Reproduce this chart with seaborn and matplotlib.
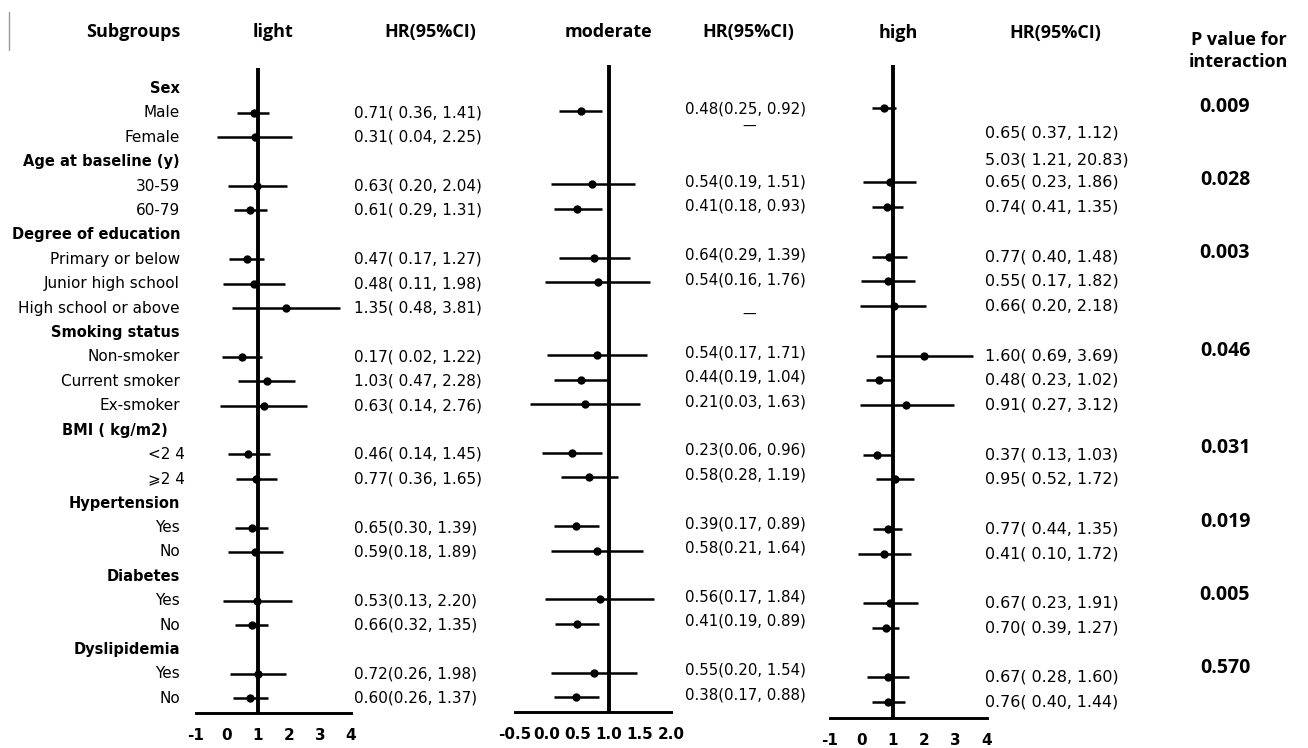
import numpy as np
import pandas as pd
import matplotlib
matplotlib.use("Agg")
import matplotlib.pyplot as plt
import seaborn as sns
from matplotlib.transforms import blended_transform_factory
from matplotlib.lines import Line2D

# ---- data ----
rowLabels = [
    "Sex", "Male", "Female",
    "Age at baseline (y)", "30-59", "60-79",
    "Degree of education", "Primary or below", "Junior high school", "High school or above",
    "Smoking status", "Non-smoker", "Current smoker", "Ex-smoker",
    "BMI ( kg/m2)", "<2 4", "⩾2 4",
    "Hypertension", "Yes", "No",
    "Diabetes", "Yes", "No",
    "Dyslipidemia", "Yes", "No",
]
headerRows = [0, 3, 6, 10, 14, 17, 20, 23]
subRows = [r for r in range(len(rowLabels)) if r not in headerRows]

nan = np.nan
lightHr = [0.87, 0.90, 0.97, 0.74, 0.65, 0.87, 1.90, 0.48, 1.29, 1.19, 0.68, 0.94, 0.81, 0.90, 0.97, 0.81, 1.00, 0.74]
lightLo = [0.32, -0.32, 0.03, 0.23, 0.06, -0.13, 0.16, -0.16, 0.35, -0.23, 0.03, 0.29, 0.26, 0.03, -0.13, 0.26, 0.10, 0.19]
lightHi = [1.35, 2.10, 1.94, 1.29, 1.19, 1.87, 3.65, 1.13, 2.19, 2.58, 1.39, 1.61, 1.32, 1.81, 2.10, 1.32, 1.90, 1.32]

modHr = [0.56, nan, 0.74, 0.50, 0.77, 0.83, nan, 0.81, 0.56, 0.62, 0.42, 0.69, 0.48, 0.82, 0.86, 0.50, 0.77, 0.47]
modLo = [0.21, nan, 0.07, 0.12, 0.21, -0.02, nan, 0.01, 0.12, -0.26, -0.06, 0.23, 0.12, 0.07, -0.02, 0.14, 0.07, 0.12]
modHi = [0.89, nan, 1.43, 0.89, 1.34, 1.66, nan, 1.61, 0.97, 1.51, 0.90, 1.15, 0.85, 1.55, 1.73, 0.85, 1.46, 0.84]

highHr = [0.71, nan, 0.92, 0.81, 0.87, 0.84, 1.04, 1.99, 0.55, 1.43, 0.50, 1.07, 0.84, 0.73, 0.92, 0.77, 0.84, 0.84]
highLo = [0.34, nan, 0.06, 0.34, 0.33, -0.01, -0.03, 0.45, 0.15, -0.06, 0.04, 0.45, 0.38, -0.12, 0.06, 0.34, 0.17, 0.34]
highHi = [1.09, nan, 1.75, 1.32, 1.45, 1.72, 2.07, 3.54, 0.95, 2.94, 0.95, 1.66, 1.30, 1.58, 1.80, 1.21, 1.52, 1.38]

lightText = ["0.71( 0.36, 1.41)", "0.31( 0.04, 2.25)", "0.63( 0.20, 2.04)", "0.61( 0.29, 1.31)",
             "0.47( 0.17, 1.27)", "0.48( 0.11, 1.98)", "1.35( 0.48, 3.81)", "0.17( 0.02, 1.22)",
             "1.03( 0.47, 2.28)", "0.63( 0.14, 2.76)", "0.46( 0.14, 1.45)", "0.77( 0.36, 1.65)",
             "0.65(0.30, 1.39)", "0.59(0.18, 1.89)", "0.53(0.13, 2.20)", "0.66(0.32, 1.35)",
             "0.72(0.26, 1.98)", "0.60(0.26, 1.37)"]
modText = ["0.48(0.25, 0.92)", "—", "0.54(0.19, 1.51)", "0.41(0.18, 0.93)",
           "0.64(0.29, 1.39)", "0.54(0.16, 1.76)", "—", "0.54(0.17, 1.71)",
           "0.44(0.19, 1.04)", "0.21(0.03, 1.63)", "0.23(0.06, 0.96)", "0.58(0.28, 1.19)",
           "0.39(0.17, 0.89)", "0.58(0.21, 1.64)", "0.56(0.17, 1.84)", "0.41(0.19, 0.89)",
           "0.55(0.20, 1.54)", "0.38(0.17, 0.88)"]
highText = ["0.65( 0.37, 1.12)", "5.03( 1.21, 20.83)", "0.65( 0.23, 1.86)", "0.74( 0.41, 1.35)",
            "0.77( 0.40, 1.48)", "0.55( 0.17, 1.82)", "0.66( 0.20, 2.18)", "1.60( 0.69, 3.69)",
            "0.48( 0.23, 1.02)", "0.91( 0.27, 3.12)", "0.37( 0.13, 1.03)", "0.95( 0.52, 1.72)",
            "0.77( 0.44, 1.35)", "0.41( 0.10, 1.72)", "0.67( 0.23, 1.91)", "0.70( 0.39, 1.27)",
            "0.67( 0.28, 1.60)", "0.76( 0.40, 1.44)"]
pValues = ["0.009", "0.028", "0.003", "0.046", "0.031", "0.019", "0.005", "0.570"]

lightTicks = [-1, 0, 1, 2, 3, 4]
modTicks = [-0.5, 0.0, 0.5, 1.0, 1.5, 2.0]
highTicks = [-1, 0, 1, 2, 3, 4]

# ---- layout (pixels of a 1308x748 canvas) ----
W, H = 1308, 748
sns.set_theme(style="white")
plt.rcParams["font.family"] = ["DejaVu Sans"]
plt.rcParams["text.color"] = "black"
plt.rcParams["xtick.color"] = "black"

fig = plt.figure(figsize=(W / 100, H / 100), dpi=100, facecolor="white")


def pxAxes(x0, x1, y0, y1):
    return fig.add_axes([x0 / W, (H - y1) / H, (x1 - x0) / W, (y1 - y0) / H])


def fx(px):
    return px / W


def fy(py):
    return (H - py) / H


panels = [
    # hr, lo, hi, ticks, xlim, box px (x0, x1, top, bottom), ylim in rows, tick format
    (lightHr, lightLo, lightHi, lightTicks, (-1, 4), (196, 351, 68, 713), (25.6, -0.84), "{:g}"),
    (modHr, modLo, modHi, modTicks, (-0.5, 2.0), (515, 671, 65, 712), (25.61, -0.885), "{:.1f}"),
    (highHr, highLo, highHi, highTicks, (-1, 4), (830, 987, 65, 718), (25.64, -0.74), "{:g}"),
]

axes = []
for hr, lo, hi, ticks, xlim, box, ylim, fmt in panels:
    ax = pxAxes(*box)
    df = pd.DataFrame({"row": subRows, "hr": hr, "lo": lo, "hi": hi}).dropna()
    ax.hlines(df["row"], df["lo"], df["hi"], color="black", lw=1.8, zorder=2)
    sns.scatterplot(data=df, x="hr", y="row", ax=ax, color="black", s=36,
                    edgecolor="black", linewidth=0, zorder=3, legend=False, clip_on=False)
    ax.axvline(1, color="black", lw=2.8, zorder=1)
    ax.set_xlim(*xlim)
    ax.set_ylim(*ylim)
    ax.set_xlabel("")
    ax.set_ylabel("")
    ax.set_yticks([])
    ax.set_xticks(ticks)
    ax.set_xticklabels([fmt.format(t) for t in ticks], fontsize=11, fontweight="bold")
    ax.tick_params(axis="x", direction="out", length=6.5, width=1.7, pad=4, colors="black")
    ax.set_facecolor("none")
    for side in ["left", "right", "top"]:
        ax.spines[side].set_visible(False)
    ax.spines["bottom"].set_linewidth(2.1)
    ax.spines["bottom"].set_color("black")
    axes.append(ax)

axLight, axMod, axHigh = axes

# row-scale transforms: x in figure fraction, y in each panel's rows
tL = blended_transform_factory(fig.transFigure, axLight.transData)
tM = blended_transform_factory(fig.transFigure, axMod.transData)
tH = blended_transform_factory(fig.transFigure, axHigh.transData)

for r, lab in enumerate(rowLabels):
    bold = r in headerRows
    xRight = fx(180)
    if lab.startswith("<") or lab.startswith("⩾"):
        xRight = fx(185)
    if lab.startswith("BMI"):
        xRight = fx(168)
    fig.text(xRight, r, lab, transform=tL, ha="right", va="center",
             fontsize=10.5 if bold else 11, fontweight="bold" if bold else "normal",
             family=["DejaVu Sans", "Noto Sans CJK SC"])

# HR(95%CI) columns
highShift = {0: 1.0, 1: 1.1}
modShift = {1: -0.35, 6: 0.35}
for i, r in enumerate(subRows):
    fig.text(fx(354), r, lightText[i], transform=tL, ha="left", va="center", fontsize=11)
    if modText[i] == "—":
        fig.text(fx(749), r + modShift.get(i, 0), modText[i], transform=tM,
                 ha="center", va="center", fontsize=10)
    else:
        fig.text(fx(685), r - 0.1, modText[i], transform=tM, ha="left", va="center", fontsize=10.8)
    fig.text(fx(985), r + highShift.get(i, 0), highText[i], transform=tH,
             ha="left", va="center", fontsize=11.4)

# P values for interaction
for hRow, p in zip(headerRows, pValues):
    fig.text(fx(1225), hRow + 0.75, p, transform=tL, ha="center", va="center",
             fontsize=14, fontweight="bold", family="Open Sans")

# column headers
hdr = dict(fontsize=13, fontweight="bold", family="Open Sans", va="center")
fig.text(fx(180), fy(32), "Subgroups", ha="right", **hdr)
fig.text(fx(273), fy(32), "light", ha="center", **hdr)
fig.text(fx(430), fy(32), "HR(95%CI)", ha="center", **hdr)
fig.text(fx(608), fy(32), "moderate", ha="center", **hdr)
fig.text(fx(748), fy(32), "HR(95%CI)", ha="center", **hdr)
fig.text(fx(898), fy(33), "high", ha="center", **hdr)
fig.text(fx(1055), fy(33), "HR(95%CI)", ha="center", **hdr)
fig.text(fx(1239), fy(40), "P value for", ha="center", **hdr)
fig.text(fx(1238), fy(62), "interaction", ha="center", **hdr)

# thin crop mark at top-left of the original
fig.add_artist(Line2D([fx(9), fx(9)], [fy(12), fy(50)], color="#9a9a9a", lw=1))

fig.savefig("out.png", dpi=100, facecolor="white")
plt.close(fig)
